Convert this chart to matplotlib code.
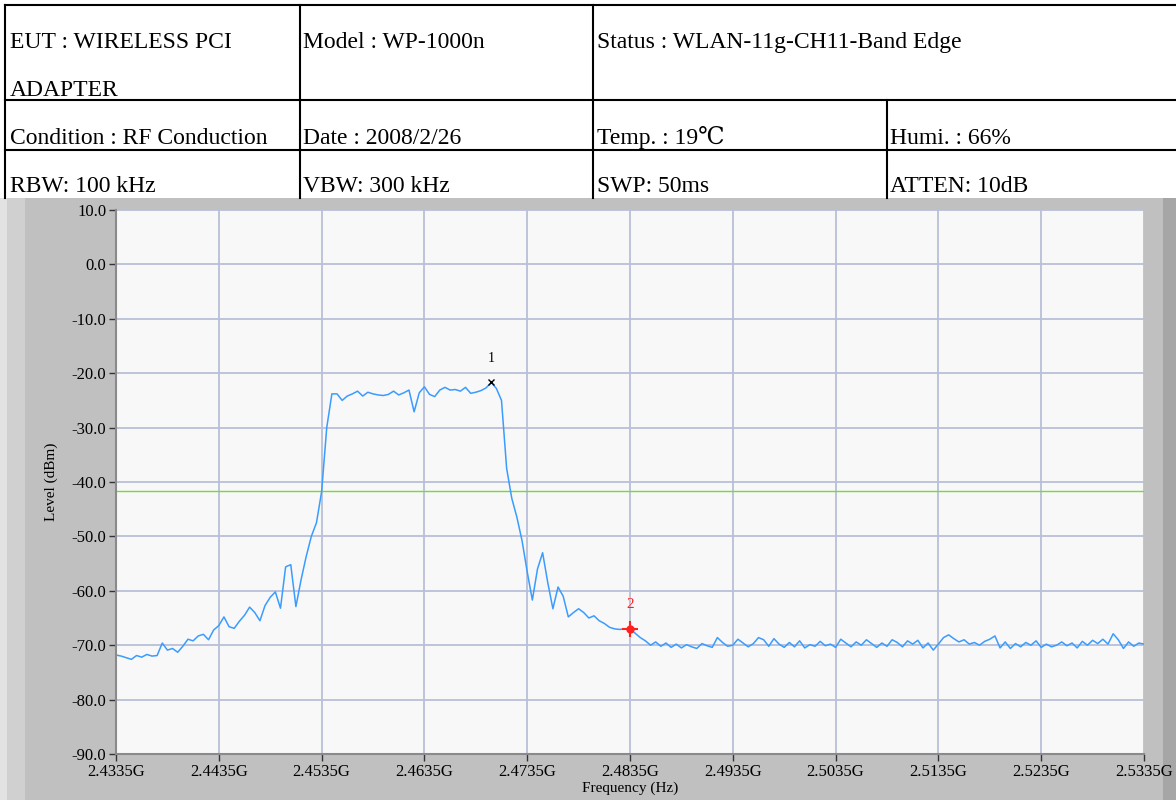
import numpy as np
import matplotlib
matplotlib.use("Agg")
import matplotlib.pyplot as plt
from matplotlib.patches import Rectangle

# header table text (row, column)
header_cells = [
    ("EUT : WIRELESS PCI", 10, 48),
    ("ADAPTER", 10, 96),
    ("Model : WP-1000n", 303, 48),
    ("Status : WLAN-11g-CH11-Band Edge", 597, 48),
    ("Condition : RF Conduction", 10, 144),
    ("Date : 2008/2/26", 303, 144),
    ("Temp. : 19\u2103", 597, 144),
    ("Humi. : 66%", 890, 144),
    ("RBW: 100 kHz", 10, 192),
    ("VBW: 300 kHz", 303, 192),
    ("SWP: 50ms", 597, 192),
    ("ATTEN: 10dB", 890, 192),
]

# sweep settings (MHz)
f_start = 2433.5
f_stop = 2533.5
n_points = 201

# trace level, dBm
level = [
    -71.8, -72.0, -72.3, -72.6, -71.9, -72.2, -71.7, -72.0, -71.9, -69.6,
    -70.9, -70.6, -71.3, -70.2, -68.9, -69.2, -68.3, -68.0, -69.0, -67.2,
    -66.4, -64.8, -66.6, -66.9, -65.6, -64.5, -63.0, -64.0, -65.5, -62.7,
    -61.2, -60.2, -63.2, -55.6, -55.2, -62.9, -58.0, -53.7, -50.0, -47.5,
    -41.8, -30.0, -23.8, -23.8, -25.0, -24.2, -23.8, -23.3, -24.2, -23.5,
    -23.8, -24.0, -24.1, -23.9, -23.3, -24.0, -23.6, -23.1, -27.1, -23.6,
    -22.5, -23.9, -24.3, -23.1, -22.6, -23.1, -23.0, -23.3, -22.6, -23.7,
    -23.5, -23.2, -22.7, -21.7, -22.8, -25.0, -37.5, -43.0, -46.5, -50.8,
    -56.5, -61.7, -56.0, -53.0, -58.5, -63.3, -59.3, -61.0, -64.8, -64.0,
    -63.3, -64.0, -65.0, -64.6, -65.5, -66.0, -66.7, -67.0, -67.1, -67.0,
    -67.0, -67.8, -68.6, -69.2, -70.0, -69.4, -70.2, -69.6, -70.4, -69.8,
    -70.5, -69.9, -70.3, -70.6, -69.7, -70.1, -70.4, -68.6, -69.5, -70.2,
    -70.0, -68.9, -69.6, -70.3, -69.7, -68.6, -69.0, -70.2, -68.8, -69.8,
    -70.4, -69.5, -70.3, -69.2, -70.5, -69.9, -70.2, -69.3, -70.1, -69.8,
    -70.4, -68.9, -69.6, -70.3, -69.4, -70.0, -69.0, -69.7, -70.4, -69.6,
    -70.2, -69.0, -69.5, -70.3, -69.2, -69.8, -69.1, -70.5, -69.6, -70.9,
    -69.8, -68.6, -68.1, -68.8, -69.4, -69.0, -69.8, -69.5, -70.0, -69.3,
    -68.9, -68.3, -70.5, -69.4, -70.6, -69.7, -70.3, -69.5, -70.0, -69.2,
    -70.4, -69.8, -70.3, -70.0, -69.4, -70.1, -69.6, -70.5, -69.3, -70.0,
    -69.1, -69.7, -68.9, -69.8, -67.9, -69.0, -70.6, -69.4, -70.2, -69.6,
    -69.8,
]

limit_level = -41.7

# markers: (label, freq MHz, level dBm, colour)
markers = [("1", 2470.0, -21.7, "black"), ("2", 2483.5, -67.0, "#ff2020")]

x_ticks = [2433.5, 2443.5, 2453.5, 2463.5, 2473.5, 2483.5,
           2493.5, 2503.5, 2513.5, 2523.5, 2533.5]
y_ticks = [10, 0, -10, -20, -30, -40, -50, -60, -70, -80, -90]

freq = np.linspace(f_start, f_stop, n_points)

fig = plt.figure(figsize=(11.76, 8), dpi=100)
fig.patch.set_facecolor("white")

# background / header layer in pixel coords
bg = fig.add_axes([0, 0, 1, 1])
bg.set_xlim(0, 1176)
bg.set_ylim(800, 0)
bg.axis("off")
bg.add_patch(Rectangle((0, 198), 1176, 602, color="#c0c0c0", lw=0))
bg.add_patch(Rectangle((0, 198), 7, 602, color="#e2e2e2", lw=0))
bg.add_patch(Rectangle((7, 198), 18, 602, color="#d0d0d0", lw=0))
bg.add_patch(Rectangle((1163, 198), 13, 602, color="#a6a6a6", lw=0))

lw_tab = 1.5
bg.plot([5, 1176], [5, 5], color="black", lw=lw_tab)
bg.plot([5, 1176], [100, 100], color="black", lw=lw_tab)
bg.plot([5, 1176], [150, 150], color="black", lw=lw_tab)
for xv in [5, 300, 593]:
    bg.plot([xv, xv], [5, 198], color="black", lw=lw_tab)
bg.plot([887, 887], [100, 198], color="black", lw=lw_tab)

for txt, xp, yp in header_cells:
    bg.text(xp, yp, txt, fontsize=17, family=["Liberation Serif", "DejaVu Serif"],
            ha="left", va="baseline", color="black")

# spectrum plot
ax = fig.add_axes([116 / 1176, 46 / 800, 1028 / 1176, 544 / 800])
ax.set_facecolor("#f8f8f8")
ax.set_xlim(f_start, f_stop)
ax.set_ylim(-90, 10)
ax.set_xticks(x_ticks)
ax.set_xticklabels([f"{v / 1000:.4f}G" for v in x_ticks])
ax.set_yticks(y_ticks)
ax.set_yticklabels([f"{v:.1f}" for v in y_ticks])
ax.grid(True, color="#b8c0d8", lw=1.3)
ax.set_axisbelow(True)
for s in ["top", "right"]:
    ax.spines[s].set_visible(False)
for s in ["left", "bottom"]:
    ax.spines[s].set_color("#8a8a8a")
    ax.spines[s].set_linewidth(1.5)
ax.tick_params(length=5, width=1, color="#333333", labelsize=12, pad=2)
for lab in ax.get_xticklabels() + ax.get_yticklabels():
    lab.set_family("Liberation Serif")

ax.axhline(limit_level, color="#6fe030", lw=1.0)
ax.plot(freq, level, color="#3a9cff", lw=1.1)

m1 = markers[0]
ax.plot(m1[1], m1[2], marker="x", color=m1[3], ms=5, mew=1)
ax.annotate(m1[0], (m1[1], m1[2]), xytext=(0, 15), textcoords="offset points",
            ha="center", fontsize=10, family="Liberation Serif", color=m1[3])
m2 = markers[1]
ax.plot(m2[1], m2[2], marker="+", color=m2[3], ms=12, mew=1.5)
ax.plot(m2[1], m2[2], marker="o", color=m2[3], ms=5)
ax.annotate(m2[0], (m2[1], m2[2]), xytext=(0, 15), textcoords="offset points",
            ha="center", fontsize=11, family="Liberation Serif", color=m2[3])

ax.set_xlabel("Frequency (Hz)", fontsize=11, family="Liberation Serif", labelpad=1)
ax.set_ylabel("Level (dBm)", fontsize=11, family="Liberation Serif", labelpad=10)

fig.savefig("out.png", dpi=100)
